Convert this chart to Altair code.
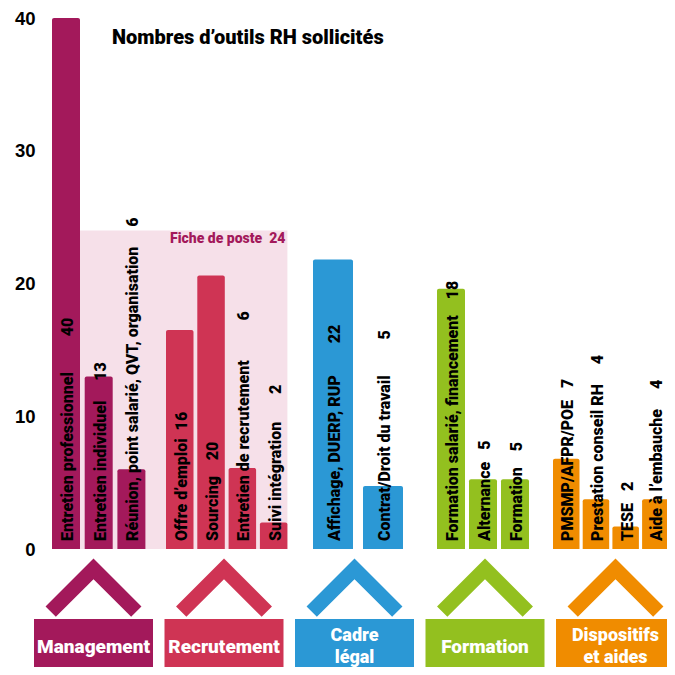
import altair as alt
import pandas as pd

# ---------------- data ----------------
title_text = "Nombres d’outils RH sollicités"
groups = ["Management", "Recrutement", "Cadre légal", "Formation", "Dispositifs et aides"]
group_box_text = ["Management", "Recrutement", "Cadre\nlégal", "Formation", "Dispositifs\net aides"]
tools = [
    "Entretien professionnel", "Entretien individuel",
    "Réunion, point salarié, QVT, organisation",
    "Offre d’emploi", "Sourcing", "Entretien de recrutement", "Suivi intégration",
    "Affichage, DUERP, RUP", "Contrat/Droit du travail",
    "Formation salarié, financement", "Alternance", "Formation",
    "PMSMP/AFPR/POE", "Prestation conseil RH", "TESE", "Aide à l’embauche",
]
tool_group = [0, 0, 0, 1, 1, 1, 1, 2, 2, 3, 3, 3, 4, 4, 4, 4]
tool_counts = [40, 13, 6, 16, 20, 6, 2, 22, 5, 18, 5, 5, 7, 4, 2, 4]
bar_heights = [40, 13, 6, 16.5, 20.6, 6.1, 2.0, 21.8, 4.75, 19.6, 5.25, 5.25, 6.8, 3.75, 1.7, 3.75]
fiche_name = "Fiche de poste"
fiche_count = 24
y_ticks = [0, 10, 20, 30, 40]

# ---------------- layout / style ----------------
group_colors = ["#a3195b", "#cf3454", "#2b98d5", "#93c01f", "#f08c00"]
fiche_fill = "#f6e0e9"
group_start = [52, 166, 313, 437, 553]
bar_width = [28, 27.5, 40, 28, 26.5]
bar_step = [32.7, 31.3, 50, 32, 29.7]
label_gap = [9, 5, 5, 2, 4, 10, 7, 8, 9, 4, 3, 4, 3, 5, 3, 5]
box_center0, box_step, box_width = 93.5, 130.5, 119
FONT = "Roboto, Liberation Sans, Arial, sans-serif"
AXIS_FONT = "Liberation Sans, Arial, sans-serif"
NB = "\u00a0"

# ---------------- tables ----------------
rows = []
pos_in_group = {}
for i, name in enumerate(tools):
    g = tool_group[i]
    k = pos_in_group.get(g, 0)
    pos_in_group[g] = k + 1
    x0 = group_start[g] + k * bar_step[g]
    x1 = x0 + bar_width[g]
    rows.append({
        "tool": name, "group": groups[g], "count": tool_counts[i], "h": bar_heights[i],
        "x0": x0, "x1": x1, "xc": (x0 + x1) / 2, "base": 0,
        "label": name + NB * label_gap[i] + str(tool_counts[i]),
        "color": group_colors[g],
    })
bars_df = pd.DataFrame(rows)

boxes_df = pd.DataFrame({
    "group": groups,
    "text": group_box_text,
    "center": [box_center0 + i * box_step for i in range(len(groups))],
    "color": group_colors,
})
boxes_df["b0"] = boxes_df["center"] - box_width / 2
boxes_df["b1"] = boxes_df["center"] + box_width / 2
boxes_df["nlines"] = boxes_df["text"].str.count("\n") + 1

mgmt = bars_df[bars_df.group == groups[0]]
recr = bars_df[bars_df.group == groups[1]]
fiche_df = pd.DataFrame({
    "name": [fiche_name], "top": [fiche_count], "base": [0],
    "x0": [mgmt["x1"].iloc[0]], "x1": [recr["x1"].iloc[-1]],
    "label": [fiche_name + NB * 2 + str(fiche_count)],
})

# ---------------- encodings ----------------
xscale = alt.Scale(domain=[50, 667], nice=False, zero=False)
yscale = alt.Scale(domain=[0, 40], nice=False)
yaxis = alt.Axis(values=y_ticks, title=None, ticks=False, domain=False, grid=False,
                 labelFont=AXIS_FONT, labelFontSize=18.5, labelFontWeight="bold",
                 labelColor="black", labelPadding=15)


def X(f):
    return alt.X(f, type="quantitative", scale=xscale, axis=None)


def Y(f):
    return alt.Y(f, type="quantitative", scale=yscale, axis=yaxis)


fiche_rect = alt.Chart(fiche_df).mark_rect(color=fiche_fill).encode(
    x=X("x0"), x2="x1", y=Y("top"), y2="base")

fiche_text = alt.Chart(fiche_df).mark_text(
    align="right", baseline="top", dx=-2, dy=2, font=FONT, fontSize=14,
    fontWeight=900, color=group_colors[0]).encode(
    x=X("x1"), y=Y("top"), text="label:N")

bars = alt.Chart(bars_df).mark_bar(cornerRadiusTopLeft=2, cornerRadiusTopRight=2).encode(
    x=X("x0"), x2="x1", y=Y("h"), y2="base",
    color=alt.Color("color:N", scale=None))

bar_labels = alt.Chart(bars_df).mark_text(
    angle=270, align="left", baseline="middle", dx=8, dy=2, font=FONT,
    fontSize=16, fontWeight=900, color="black").encode(
    x=X("xc"), y=Y("base"), text="label:N")

chevrons = alt.Chart(boxes_df).mark_point(
    shape="M0,-0.593 L1,0.407 L0.785,0.622 L0,-0.163 L-0.785,0.622 L-1,0.407 Z",
    filled=True, opacity=1, size=9200).encode(
    x=X("center"), y=alt.value(569), color=alt.Color("color:N", scale=None))

boxes = alt.Chart(boxes_df).mark_rect().encode(
    x=X("b0"), x2="b1", y=alt.value(601), y2=alt.value(650),
    color=alt.Color("color:N", scale=None))

box_text1 = alt.Chart(boxes_df).transform_filter("datum.nlines == 1").mark_text(
    align="center", baseline="middle", font=FONT, fontSize=19, fontWeight=900,
    color="white").encode(x=X("center"), y=alt.value(629), text="text:N")
box_text2 = alt.Chart(boxes_df).transform_filter("datum.nlines == 2").mark_text(
    lineBreak="\n", lineHeight=21.5, align="center", baseline="middle", font=FONT,
    fontSize=18, fontWeight=900, color="white").encode(
    x=X("center"), y=alt.value(618), text="text:N")

title = alt.Chart(pd.DataFrame({"t": [title_text]})).mark_text(
    align="left", baseline="alphabetic", font=FONT, fontSize=20,
    fontWeight=900, color="black").encode(
    x=alt.value(62), y=alt.value(26), text="t:N")

chart = alt.layer(
    fiche_rect, bars, fiche_text, bar_labels, chevrons, boxes,
    box_text1, box_text2, title
).properties(
    width=617, height=531,
    autosize=alt.AutoSizeParams(type="none"),
    padding={"left": 42, "top": 10, "right": 0, "bottom": 118},
    background="white",
).configure_view(stroke=None)

chart.save("out.html", embed_options={"renderer": "svg", "actions": False})
